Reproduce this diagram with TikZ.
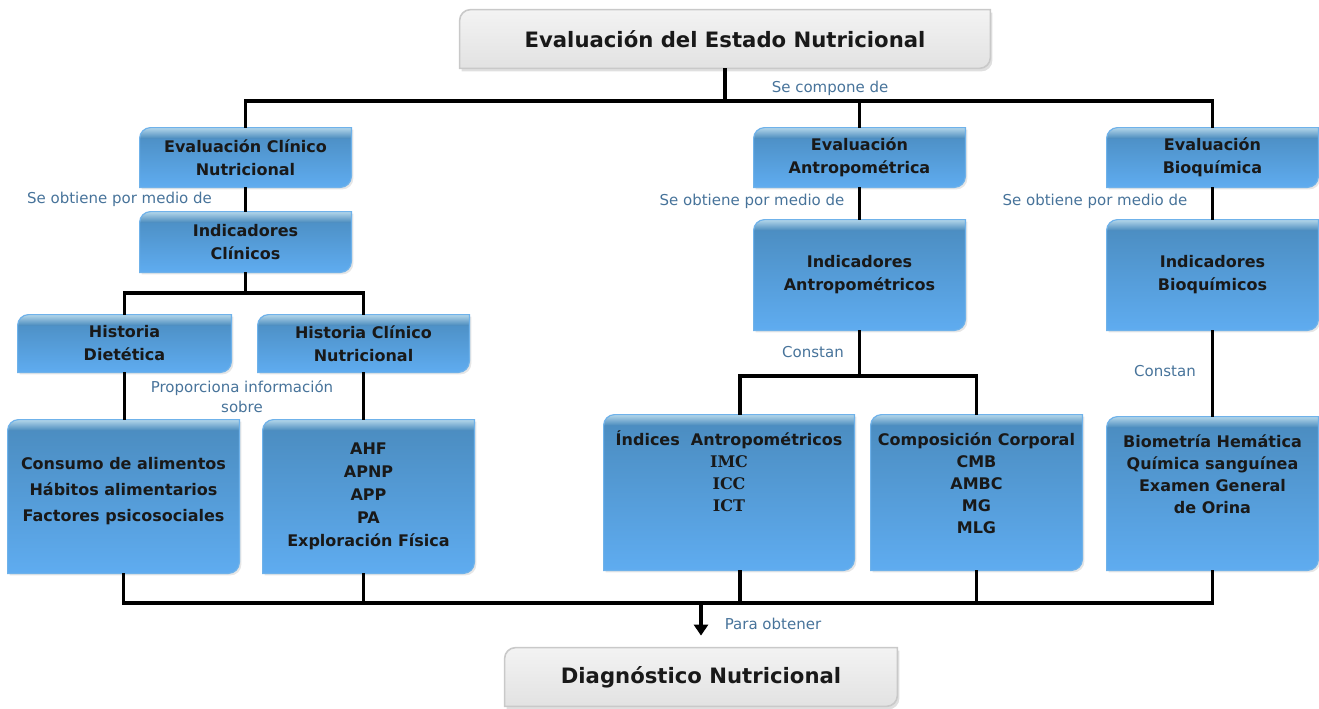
\documentclass[tikz,border=0pt]{standalone}
\usepackage{fontspec}
\setmainfont{DejaVu Sans}
\newfontfamily\serifn{DejaVu Serif}
\usetikzlibrary{arrows.meta,backgrounds,shadows}
\definecolor{azulArriba}{HTML}{4A8BBE}
\definecolor{azulAbajo}{HTML}{5FACF0}
\definecolor{azulBrillo}{HTML}{B3D6EA}
\definecolor{azulBorde}{HTML}{6FB2EA}
\definecolor{grisArriba}{HTML}{F3F3F3}
\definecolor{grisAbajo}{HTML}{E2E2E2}
\definecolor{grisBorde}{HTML}{C9C9C9}
\definecolor{etiquetaAzul}{HTML}{47739A}
% contorno de caja: esquina sup. izq. y inf. der. redondeadas
\newcommand\contorno[1]{([yshift=-5.5pt]#1.north west) arc[start angle=180,end angle=90,radius=5.5pt] -- (#1.north east) -- ([yshift=5.5pt]#1.south east) arc[start angle=0,end angle=-90,radius=5.5pt] -- (#1.south west) -- cycle}
\tikzset{
  caja/.style={inner sep=0pt, align=center, font=\bfseries\fontsize{8}{11.5}\selectfont, text=black!90},
  titulo/.style={caja, font=\bfseries\fontsize{10.6}{13}\selectfont},
  etiqueta/.style={inner sep=0pt, align=center, font=\fontsize{7.5}{10}\selectfont, text=etiquetaAzul},
  conector/.style={line width=1.6pt},
}
\begin{document}
\begin{tikzpicture}[x=0.5pt,y=-0.5pt]
\useasboundingbox (0,0) rectangle (1319,708);
% cajas
\node[titulo, minimum width=265pt, minimum height=29pt] (enc) at (725,39) {Evaluación del Estado Nutricional};
\node[titulo, minimum width=196pt, minimum height=29pt] (dn) at (701,677) {Diagnóstico Nutricional};
\node[caja, minimum width=105.5pt, minimum height=29.5pt] (ecn) at (245.5,157.5) {Evaluación Clínico\\Nutricional};
\node[caja, minimum width=105.5pt, minimum height=30pt] (ic) at (245.5,242) {Indicadores\\Clínicos};
\node[caja, minimum width=106.5pt, minimum height=28.5pt] (hd) at (124.5,343.5) {Historia\\Dietética};
\node[caja, minimum width=105.5pt, minimum height=28.5pt] (hcn) at (363.5,343.5) {Historia Clínico\\Nutricional};
\node[caja, minimum width=115.5pt, minimum height=76.5pt] (ca) at (123.5,496.5) {};
\node[caja, minimum width=105.5pt, minimum height=76.5pt] (ahf) at (368.5,496.5) {AHF\\APNP\\APP\\PA\\Exploración Física};
\node[caja, minimum width=105.5pt, minimum height=29.5pt] (ea) at (859.5,157.5) {Evaluación\\Antropométrica};
\node[caja, minimum width=105.5pt, minimum height=55pt] (ia) at (859.5,275) {Indicadores\\Antropométricos};
\node[caja, minimum width=125pt, minimum height=77.5pt] (ida) at (729,492.5) {};
\node[caja, minimum width=105.5pt, minimum height=77.5pt] (cc) at (976.5,492.5) {};
\node[caja, minimum width=105.5pt, minimum height=29.5pt] (eb) at (1212.5,157.5) {Evaluación\\Bioquímica};
\node[caja, minimum width=105.5pt, minimum height=55pt] (ib) at (1212.5,275) {Indicadores\\Bioquímicos};
\node[caja, minimum width=105.5pt, minimum height=76.5pt] (bh) at (1212.5,493.5) {};
% textos de las cajas grandes
\node[caja, font=\bfseries\fontsize{8}{13}\selectfont] (caTxt) at ([yshift=2.5pt]ca.center) {Consumo de alimentos\\Hábitos alimentarios\\Factores psicosociales};
\node[caja, anchor=north, font=\bfseries\fontsize{8}{11}\selectfont] (idaTxt) at ([yshift=-8pt]ida.north) {Índices\ \ Antropométricos\\{\serifn IMC}\\{\serifn ICC}\\{\serifn ICT}};
\node[caja, anchor=north, font=\bfseries\fontsize{8}{11}\selectfont] (ccTxt) at ([yshift=-9pt]cc.north) {Composición Corporal\\CMB\\AMBC\\MG\\MLG};
\node[caja, anchor=north, font=\bfseries\fontsize{8}{11}\selectfont] (bhTxt) at ([yshift=-9pt]bh.north) {Biometría Hemática\\Química sanguínea\\Examen General\\de Orina};
% etiquetas
\node[etiqueta] (lblCompone) at (830,88) {Se compone de};
\node[etiqueta] (lblMedio1) at (119.5,199) {Se obtiene por medio de};
\node[etiqueta] (lblMedio2) at (752,201) {Se obtiene por medio de};
\node[etiqueta] (lblMedio3) at (1095,201) {Se obtiene por medio de};
\node[etiqueta] (lblProporciona) at (242,397) {Proporciona información\\sobre};
\node[etiqueta] (lblConstan1) at (813,352) {Constan};
\node[etiqueta] (lblConstan2) at (1165,371) {Constan};
\node[etiqueta] (lblObtener) at (773,624) {Para obtener};
% uniones
\coordinate (jTop) at (725,101);
\coordinate (jClin) at (245,293);
\coordinate (jAnt) at (740,376);
\coordinate (jBot) at (701,603);
% conectores
\draw[conector] (enc) -- (enc |- jTop);
\draw[conector] (ecn.north) -- (ecn.north |- jTop) -- (eb.north |- jTop) -- (eb.north);
\draw[conector] (ea.north) -- (ea.north |- jTop);
\draw[conector] (ecn) -- (ic);
\draw[conector] (ic) -- (ic |- jClin);
\draw[conector] (hd.north) -- (hd.north |- jClin) -- (hcn.north |- jClin) -- (hcn.north);
\draw[conector] (hd) -- (hd |- ca.north);
\draw[conector] (hcn) -- (hcn |- ahf.north);
\draw[conector] (ea) -- (ia);
\draw[conector] (ia) -- (ia |- jAnt);
\draw[conector] (ida.north -| jAnt) -- (jAnt) -- (cc.north |- jAnt) -- (cc.north);
\draw[conector] (eb) -- (ib);
\draw[conector] (ib) -- (bh);
\draw[conector] (ca.south) -- (ca.south |- jBot) -- (bh.south |- jBot) -- (bh.south);
\draw[conector] (ahf.south -| hcn) -- (hcn |- jBot);
\draw[conector] (ida.south -| jAnt) -- (jAnt |- jBot);
\draw[conector] (cc.south) -- (cc.south |- jBot);
\draw[conector, -{Triangle[width=7pt,length=5.5pt]}, shorten >=6pt] (jBot) -- (dn);
% fondos
\begin{scope}[on background layer]
\foreach \n in {ecn,ic,hd,hcn,ca,ahf,ea,ia,ida,cc,eb,ib,bh} {
  \path[drop shadow={shadow xshift=1pt,shadow yshift=-1pt,opacity=0.2}, top color=azulArriba, bottom color=azulAbajo] \contorno{\n};
  \path[top color=azulBrillo, bottom color=azulArriba] ([yshift=-5.5pt]\n.north west) arc[start angle=180,end angle=90,radius=5.5pt] -- (\n.north east) -- ([yshift=-5.5pt]\n.north east) -- cycle;
  \draw[azulBorde, line width=0.6pt] \contorno{\n};
}
\foreach \n in {enc,dn}
  \path[drop shadow={shadow xshift=1pt,shadow yshift=-1.5pt,opacity=0.25}, top color=grisArriba, bottom color=grisAbajo, draw=grisBorde, line width=0.8pt] \contorno{\n};
\end{scope}
\end{tikzpicture}
\end{document}
